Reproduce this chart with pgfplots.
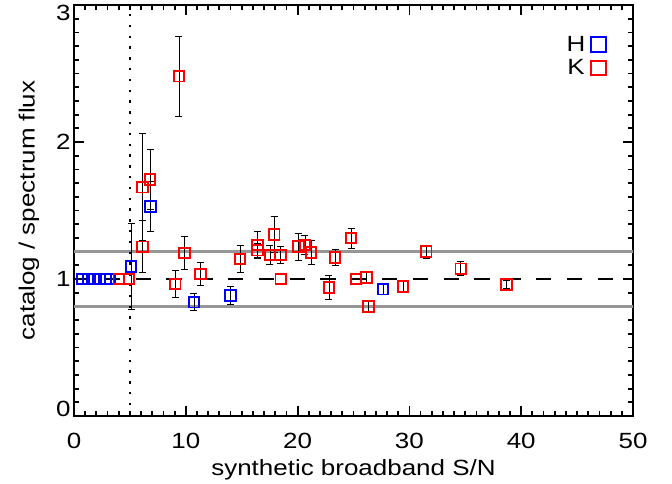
\documentclass[border=0pt]{standalone}
\usepackage{fontspec}
\setmainfont{Liberation Sans}[FakeStretch=1.18]
\usepackage{pgfplots}
\pgfplotsset{compat=1.18}
\definecolor{hblue}{RGB}{0,0,255}
\definecolor{kred}{RGB}{255,0,0}
\definecolor{lgray}{RGB}{150,150,150}
\newcommand{\chartfont}{\fontsize{22}{26}\selectfont}
\begin{document}
\begin{tikzpicture}
\useasboundingbox (-74pt,-67pt) rectangle (598pt,416pt);
\begin{axis}[
  scale only axis, width=559pt, height=411pt,
  xmin=0, xmax=50, ymin=0, ymax=3,
  xtick={0,10,20,30,40,50},
  ytick={0,1,2,3},
  yticklabels={\raisebox{0pt}[0pt][0pt]{0},1,2,\raisebox{-15.5pt}[0pt][0pt]{3}},
  minor x tick num=9, minor y tick num=9,
  major tick length=10pt, minor tick length=5pt,
  tick style={black, line width=1.8pt},
  axis line style={line width=2pt},
  /pgf/number format/assume math mode=true,
  tick label style={font=\chartfont},
  xticklabel style={yshift=-14pt},
  label style={font=\chartfont},
  xlabel={synthetic broadband S/N},
  xlabel shift=4pt,
  ylabel={catalog / spectrum flux},
  ylabel shift=10pt,
  legend plot pos=right,
  legend style={at={(0.952,0.925)}, anchor=north east, draw=none, fill=none,
    inner sep=0pt, row sep=7pt, column sep=6pt, font=\chartfont,
    nodes={inner sep=0pt}},
  legend image code/.code={\draw[#1, mark size=7.3pt, line width=1.8pt] plot coordinates {(0pt,0pt)};},
]
\addplot[lgray, line width=2.8pt, forget plot] coordinates {(0,1.2) (50,1.2)};
\addplot[lgray, line width=2.8pt, forget plot] coordinates {(0,0.8) (50,0.8)};
\addplot[black, line width=2.4pt, dash pattern=on 15.4pt off 15.4pt, forget plot] coordinates {(0,1) (50,1)};
\addplot[black, line width=2.4pt, dash pattern=on 2.4pt off 8.4pt, forget plot] coordinates {(5,0) (5,3)};

% H without error bars
\addplot[only marks, mark=square, hblue, mark size=5.3pt, line width=1.8pt, forget plot]
  coordinates {(0.72,1.0) (1.25,1.0) (1.79,1.0) (2.33,1.0) (2.86,1.0) (3.2,1.0)};
% K without error bars
\addplot[only marks, mark=square, kred, mark size=5.3pt, line width=1.8pt, forget plot]
  coordinates {(4.0,1.0) (4.92,1.0) (18.5,1.0) (25.25,1.0)};

% H with error bars
\addplot[only marks, mark=square, hblue, mark size=5.3pt, line width=1.8pt,
  error bars/.cd, y dir=both, y explicit,
  error bar style={black, line width=0.8pt},
  error mark options={rotate=90, mark size=3.5pt, black, line width=0.8pt}]
  coordinates {
  (5.1,1.09) +- (0,0.315)
  (6.86,1.53) +- (0,0.18)
  (10.73,0.83) +- (0,0.062)
  (14.0,0.88) +- (0,0.065)
  (27.64,0.925) +- (0,0.034)
  };
\addlegendentry{H}

% K with error bars
\addplot[only marks, mark=square, kred, mark size=5.3pt, line width=1.8pt,
  error bars/.cd, y dir=both, y explicit,
  error bar style={black, line width=0.8pt},
  error mark options={rotate=90, mark size=3.5pt, black, line width=0.8pt}]
  coordinates {
  (6.14,1.235) +- (0,0.19)
  (6.14,1.67) +- (0,0.39)
  (6.8,1.727) +- (0,0.22)
  (9.39,2.48) +- (0,0.29)
  (9.06,0.963) +- (0,0.097)
  (9.87,1.19) +- (0,0.12)
  (11.3,1.037) +- (0,0.085)
  (14.85,1.146) +- (0,0.097)
  (16.43,1.248) +- (0,0.10)
  (16.43,1.21) +- (0,0.05)
  (17.53,1.175) +- (0,0.07)
  (17.9,1.326) +- (0,0.13)
  (18.5,1.175) +- (0,0.063)
  (20.07,1.236) +- (0,0.10)
  (20.66,1.248) +- (0,0.07)
  (21.2,1.194) +- (0,0.09)
  (22.8,0.939) +- (0,0.085)
  (23.35,1.156) +- (0,0.06)
  (24.78,1.30) +- (0,0.073)
  (26.18,1.01) +- (0,0.045)
  (26.33,0.798) +- (0,0.037)
  (29.43,0.944) +- (0,0.036)
  (31.5,1.2) +- (0,0.046)
  (34.6,1.075) +- (0,0.052)
  (38.7,0.961) +- (0,0.032)
  };
\addlegendentry{K}
\end{axis}
\end{tikzpicture}
\end{document}
